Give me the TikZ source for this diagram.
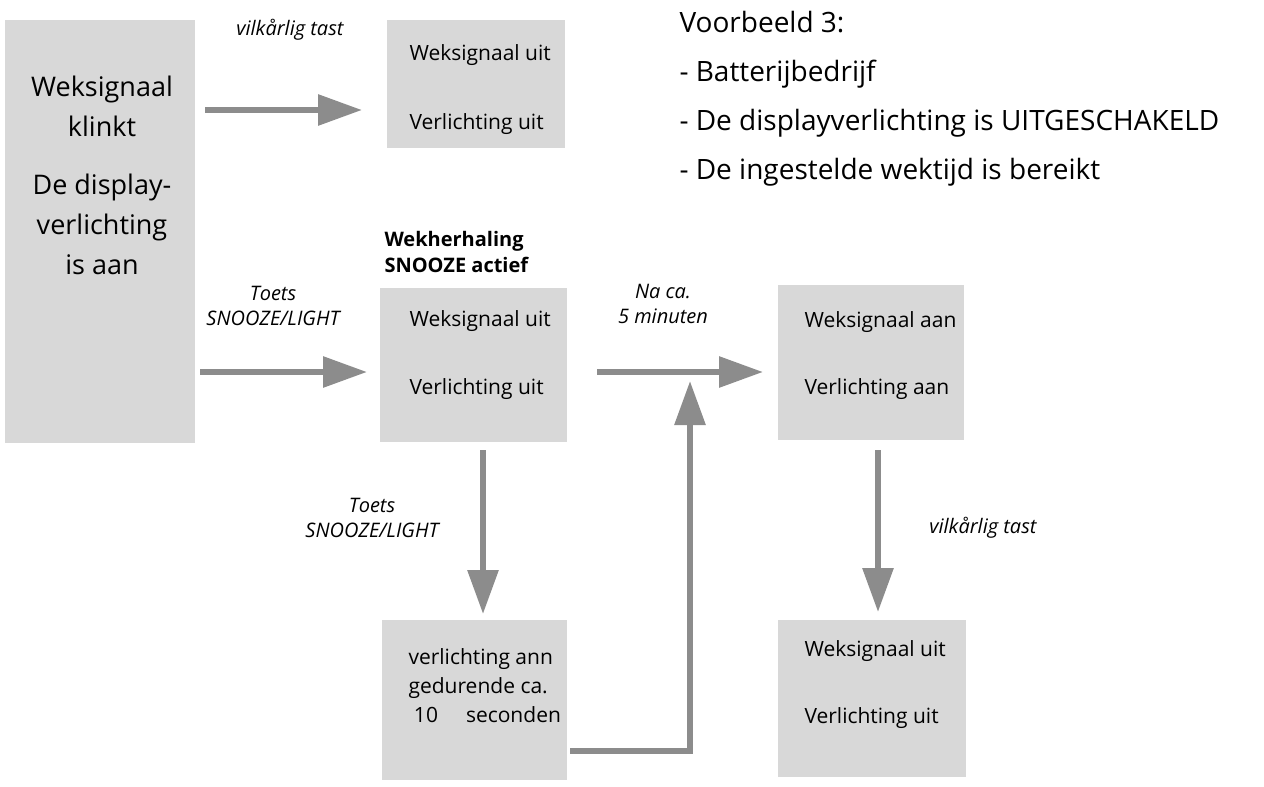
\documentclass[tikz,border=0pt]{standalone}
\usepackage{fontspec}
\setmainfont{Open Sans}
\usetikzlibrary{arrows.meta,positioning}
\definecolor{boxgray}{RGB}{216,216,216}
\definecolor{arrgray}{RGB}{140,140,140}
\tikzset{
  box/.style={fill=boxgray, draw=none, anchor=north west, inner sep=0pt},
  boxtext/.style={font=\fontsize{21}{26}\selectfont, align=left, anchor=west},
  lbl/.style={font=\itshape\fontsize{20}{25}\selectfont, align=center},
  flow/.style={draw=arrgray, line width=6pt, -{Triangle[length=44pt,width=30pt]}}
}
\begin{document}
\begin{tikzpicture}[x=1pt,y=-1pt]
\useasboundingbox (0,0) rectangle (1264,787);
% boxes
\node[box, minimum width=190pt, minimum height=423pt] (alarm) at (5,20) {};
\node[box, minimum width=178pt, minimum height=128pt] (any) at (387,20) {};
\node[box, minimum width=187pt, minimum height=154pt] (snooze) at (380,288) {};
\node[box, minimum width=186pt, minimum height=155pt] (again) at (778,285) {};
\node[box, minimum width=185pt, minimum height=160pt] (light) at (382,620) {};
\node[box, minimum width=188pt, minimum height=157pt] (off) at (778,620) {};
% box texts
\node[font=\fontsize{27}{40}\selectfont, align=center, anchor=north] at (102,72)
  {Weksignaal\\klinkt\\[18pt]De display-\\verlichting\\is aan};
\node[boxtext] at (406,55) {Weksignaal uit};
\node[boxtext] at (406,124) {Verlichting uit};
\node[boxtext] at (406,321) {Weksignaal uit};
\node[boxtext] at (406,389) {Verlichting uit};
\node[boxtext] at (801,322) {Weksignaal aan};
\node[boxtext] at (801,389) {Verlichting aan};
\node[boxtext] at (801,651) {Weksignaal uit};
\node[boxtext] at (801,718) {Verlichting uit};
\node[font=\fontsize{21}{29}\selectfont, align=left, anchor=north west] at (405,645)
  {verlichting ann\\gedurende ca.\\\ 10\hspace{28pt}seconden};
% header
\node[font=\fontsize{28}{49}\selectfont, align=left, anchor=north west] at (676,8)
  {Voorbeeld 3:\\- Batterijbedrijf\\- De displayverlichting is UITGESCHAKELD\\- De ingestelde wektijd is bereikt};
\node[font=\bfseries\fontsize{20}{26}\selectfont, align=left, anchor=north west] at (381,228)
  {Wekherhaling\\SNOOZE actief};
% labels
\node[lbl] at (290,30) {vilkårlig tast};
\node[lbl] at (273,306) {Toets\\SNOOZE/LIGHT};
\node[lbl] at (663,304) {Na ca.\\5 minuten};
\node[lbl] at (372,518) {Toets\\SNOOZE/LIGHT};
\node[lbl] at (983,528) {vilkårlig tast};
% arrows
\coordinate (c1s) at (205,110); \coordinate (c1e) at (362,110);
\coordinate (c2s) at (200,372); \coordinate (c2e) at (367,372);
\coordinate (c3s) at (597,372); \coordinate (c3e) at (763,372);
\coordinate (c4s) at (483,450); \coordinate (c4e) at (483,614);
\coordinate (c5s) at (878,450); \coordinate (c5e) at (878,612);
\coordinate (c6s) at (570,751); \coordinate (c6e) at (690,381);
\draw[flow] (c1s) -- (c1e);
\draw[flow] (c2s) -- (c2e);
\draw[flow] (c3s) -- (c3e);
\draw[flow] (c4s) -- (c4e);
\draw[flow] (c5s) -- (c5e);
\draw[flow] (c6s) -| (c6e);
\end{tikzpicture}
\end{document}
